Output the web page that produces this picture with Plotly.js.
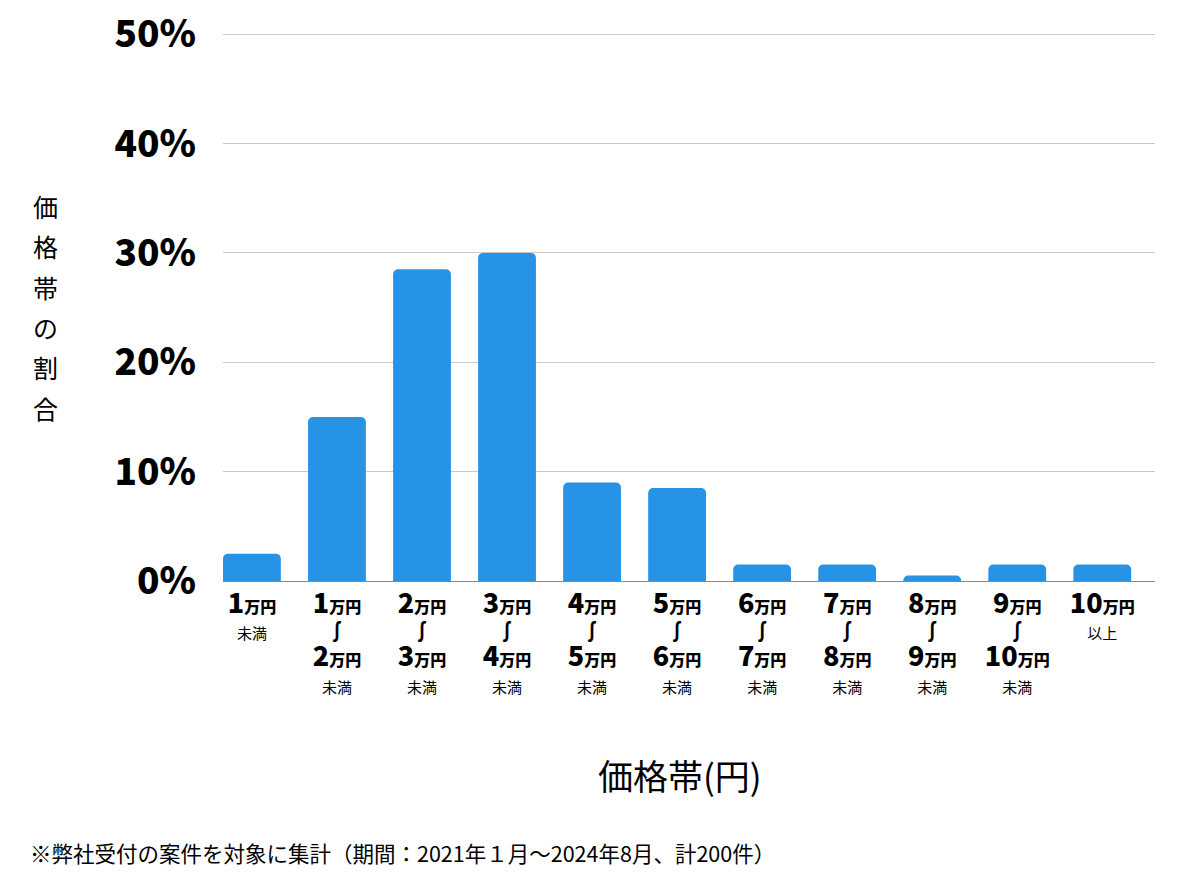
<!DOCTYPE html>
<html>
<head>
<meta charset="utf-8">
<script src="https://cdn.plot.ly/plotly-3.0.1.min.js"></script>
<style>
  body { margin: 0; background: #fff; }
  #chart { width: 1200px; height: 874px; }
</style>
</head>
<body>
<div id="chart"></div>
<script>
// price bands in 万円 (null = open end)
var priceFrom = [null, 1, 2, 3, 4, 5, 6, 7, 8, 9, 10];
var priceTo = [1, 2, 3, 4, 5, 6, 7, 8, 9, 10, null];
// share of each band, percent
var shares = [2.5, 15, 28.5, 30, 9, 8.5, 1.5, 1.5, 0.5, 1.5, 1.5];

var yTicks = [0, 10, 20, 30, 40, 50];

var FONT = '"Noto Sans CJK JP", "Noto Sans", sans-serif';

function yen(n) {
	return '<span style="font-size:27px;font-weight:900">' + n + '</span><span style="font-size:16px;font-weight:900">万円</span>';
}
function small(s) {
	return '<span style="font-size:15px">' + s + '</span>';
}
var WAVE = '<span style="font-size:21px;font-weight:700">∫</span>';

var cats = [];
var tickText = [];
for(var i = 0; i < shares.length; ++i) {
	cats.push('c' + i);
	var t;
	if(priceFrom[i] === null) {
		t = yen(priceTo[i]) + '<br>' + small('未満');
	} else if(priceTo[i] === null) {
		t = yen(priceFrom[i]) + '<br>' + small('以上');
	} else {
		t = yen(priceFrom[i]) + '<br>' + WAVE + '<br>' + yen(priceTo[i]) + '<br>' + small('未満');
	}
	tickText.push(t);
}

var data = [{
	type: 'bar',
	x: cats,
	y: shares,
	marker: {
		color: '#2693e6',
		cornerradius: 5,
	},
	hoverinfo: 'none',
}];

// vertical y title, one char per line
var yTitle = '価格帯の割合'.split('').map(function(c) {
	return '<span style="font-size:25px">' + c + '</span>';
}).join('<br>');

var layout = {
	width: 1200,
	height: 874,
	margin: {l: 223, r: 45, t: 32, b: 293},
	paper_bgcolor: '#fff',
	plot_bgcolor: '#fff',
	font: {family: FONT, color: '#000'},
	showlegend: false,
	bargap: 0.32,
	xaxis: {
		type: 'category',
		range: [-0.34, 10.62],
		tickmode: 'array',
		tickvals: cats,
		ticktext: tickText,
		tickfont: {size: 20.5, family: FONT},
		ticks: '',
		ticklabelstandoff: 6,
		showgrid: false,
		showline: true,
		linecolor: '#888',
		linewidth: 1,
		fixedrange: true,
	},
	yaxis: {
		range: [0, 50.2],
		tickmode: 'array',
		tickvals: yTicks,
		ticktext: yTicks.map(function(v) { return v + '%'; }),
		tickfont: {size: 37, family: FONT, weight: 900},
		ticks: '',
		ticklabelstandoff: 26,
		showgrid: true,
		gridcolor: '#c8c8c8',
		gridwidth: 1,
		zeroline: false,
		showline: false,
		fixedrange: true,
	},
	annotations: [
		{
			text: yTitle,
			xref: 'paper', yref: 'paper',
			x: -0.19, y: 0.5,
			xanchor: 'center', yanchor: 'middle',
			showarrow: false,
			font: {size: 31, family: FONT, color: '#000'},
		},
		{
			text: '価格帯(円)',
			xref: 'paper', yref: 'paper',
			x: 0.49, y: -0.353,
			xanchor: 'center', yanchor: 'middle',
			showarrow: false,
			font: {size: 35, family: FONT, color: '#000'},
		},
		{
			text: '※弊社受付の案件を対象に集計（期間：2021年１月〜2024年8月、計200件）',
			xref: 'paper', yref: 'paper',
			x: -0.209, y: -0.495,
			xanchor: 'left', yanchor: 'middle',
			showarrow: false,
			font: {size: 21.5, family: FONT, color: '#000'},
		},
	],
};

Plotly.newPlot('chart', data, layout, {displayModeBar: false, staticPlot: true});
</script>
</body>
</html>
